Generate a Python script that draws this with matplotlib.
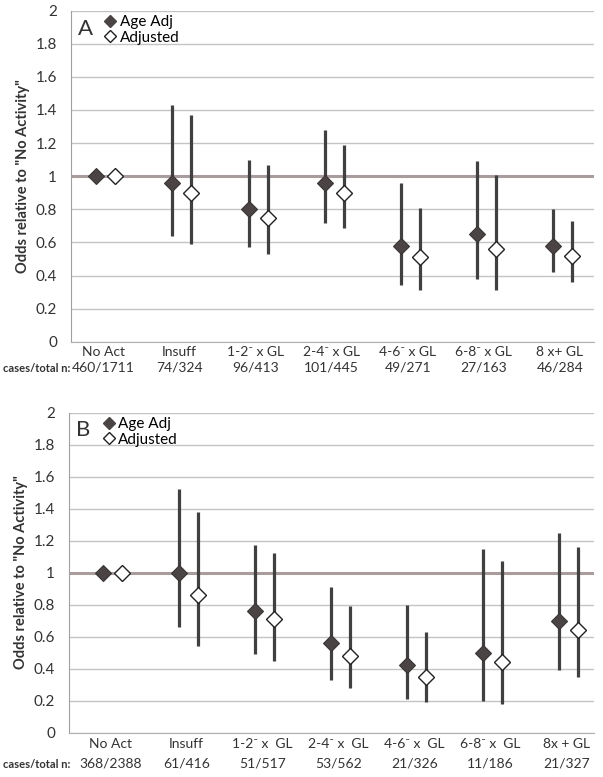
import numpy as np
import matplotlib.pyplot as plt
from matplotlib.lines import Line2D
from matplotlib.transforms import blended_transform_factory

plt.rcParams['font.family'] = ['Lato', 'DejaVu Sans']

labels_a = ['No Act', 'Insuff', '1-2⁻ x GL', '2-4⁻ x GL', '4-6⁻ x GL', '6-8⁻ x GL', '8 x+ GL']
counts_a = ['460/1711', '74/324', '96/413', '101/445', '49/271', '27/163', '46/284']
age_a = [1.0, 0.96, 0.80, 0.96, 0.58, 0.65, 0.58]
age_lo_a = [1.0, 0.64, 0.57, 0.72, 0.34, 0.38, 0.42]
age_hi_a = [1.0, 1.43, 1.10, 1.28, 0.96, 1.09, 0.80]
adj_a = [1.0, 0.90, 0.75, 0.90, 0.51, 0.56, 0.52]
adj_lo_a = [1.0, 0.59, 0.53, 0.69, 0.31, 0.31, 0.36]
adj_hi_a = [1.0, 1.37, 1.07, 1.19, 0.81, 1.01, 0.73]

labels_b = ['No Act', 'Insuff', '1-2⁻ x  GL', '2-4⁻ x  GL', '4-6⁻ x  GL', '6-8⁻ x  GL', '8x + GL']
counts_b = ['368/2388', '61/416', '51/517', '53/562', '21/326', '11/186', '21/327']
age_b = [1.0, 1.0, 0.76, 0.56, 0.42, 0.50, 0.70]
age_lo_b = [1.0, 0.66, 0.49, 0.33, 0.21, 0.20, 0.39]
age_hi_b = [1.0, 1.52, 1.17, 0.91, 0.80, 1.15, 1.25]
adj_b = [1.0, 0.86, 0.71, 0.48, 0.35, 0.44, 0.64]
adj_lo_b = [1.0, 0.54, 0.45, 0.28, 0.19, 0.18, 0.35]
adj_hi_b = [1.0, 1.38, 1.12, 0.79, 0.63, 1.07, 1.16]

W, H = 603, 777
fig = plt.figure(figsize=(W / 100, H / 100), dpi=100)

dark = '#404040'
fill = '#4a4444'


def panel(rect, xlim, letter, labels, counts, age, age_lo, age_hi, adj, adj_lo, adj_hi, lab_y, cnt_y):
    ax = fig.add_axes(rect)
    x = np.arange(len(labels))
    off = 0.125
    ax.set_xlim(*xlim)
    ax.set_ylim(0, 2)
    ax.set_yticks(np.arange(0, 2.01, 0.2))
    ax.set_yticklabels(['0', '0.2', '0.4', '0.6', '0.8', '1', '1.2', '1.4', '1.6', '1.8', '2'])
    ax.grid(axis='y', color='#c4c4c4', lw=1.0)
    ax.set_axisbelow(True)
    ax.axhline(1, color='#a89c9c', lw=2.2, zorder=1)
    for s in ['top', 'right']:
        ax.spines[s].set_visible(False)
    ax.spines['left'].set_color('#a0a0a0')
    ax.spines['bottom'].set_color('#b0b0b0')
    ax.tick_params(axis='y', length=0, labelsize=11, colors='#333333', pad=10)
    ax.set_xticks([])

    for xi, lo, hi in zip(x - off, age_lo, age_hi):
        ax.plot([xi, xi], [lo, hi], color=dark, lw=2.3, zorder=2, solid_capstyle='butt')
    for xi, lo, hi in zip(x + off, adj_lo, adj_hi):
        ax.plot([xi, xi], [lo, hi], color=dark, lw=2.3, zorder=2, solid_capstyle='butt')
    ax.plot(x - off, age, 'D', ms=8, color=fill, mec='#3a3535', mew=0.8, zorder=3)
    ax.plot(x + off, adj, 'D', ms=8, color='white', mec='#222222', mew=1.0, zorder=3)

    ax.set_ylabel('Odds relative to "No Activity"', fontweight='bold', fontsize=10.5,
                  color='#333333', labelpad=4)

    ax.text(0.013, 0.945, letter, transform=ax.transAxes, fontsize=16, color='#333333',
            va='center', ha='left')
    h1 = Line2D([], [], ls='', marker='D', ms=6, color=fill, mec=fill)
    h2 = Line2D([], [], ls='', marker='D', ms=6, color='white', mec='#222222')
    ax.legend([h1, h2], ['Age Adj', 'Adjusted'], loc='upper left', bbox_to_anchor=(0.055, 1.005),
              frameon=False, fontsize=11, handlelength=0.6, handletextpad=0.3,
              labelspacing=0.1, borderaxespad=0)

    tr = ax.get_xaxis_transform()
    for xi, lb, ct in zip(x, labels, counts):
        ax.text(xi - 0.03, lab_y, lb, transform=tr, ha='center', va='center',
                fontsize=10, color='#333333')
        ax.text(xi - 0.03, cnt_y, ct, transform=tr, ha='center', va='center',
                fontsize=10, color='#333333')
    btr = blended_transform_factory(fig.transFigure, ax.transAxes)
    fig.text(70 / W, cnt_y, 'cases/total n:', transform=btr, ha='right', va='center',
             fontsize=8, fontweight='bold', color='#333333')
    return ax


# panel A: axis from y px 10.7 to 341.7, x px 71 to 594
hA = (341.7 - 10.7) / H
axA = panel([71 / W, 1 - 341.7 / H, 523 / W, hA], (-0.46, 6.42), 'A',
            labels_a, counts_a, age_a, age_lo_a, age_hi_a, adj_a, adj_lo_a, adj_hi_a,
            -(352 - 341.7) / 331, -(368 - 341.7) / 331)

# panel B: axis from y px 412.5 to 732.5, x px 69 to 594
hB = 320 / H
axB = panel([69 / W, 1 - 732.5 / H, 525 / W, hB], (-0.575, 6.33), 'B',
            labels_b, counts_b, age_b, age_lo_b, age_hi_b, adj_b, adj_lo_b, adj_hi_b,
            -(744 - 732.5) / 320, -(764 - 732.5) / 320)

fig.savefig('out.png', dpi=100, facecolor='white')
